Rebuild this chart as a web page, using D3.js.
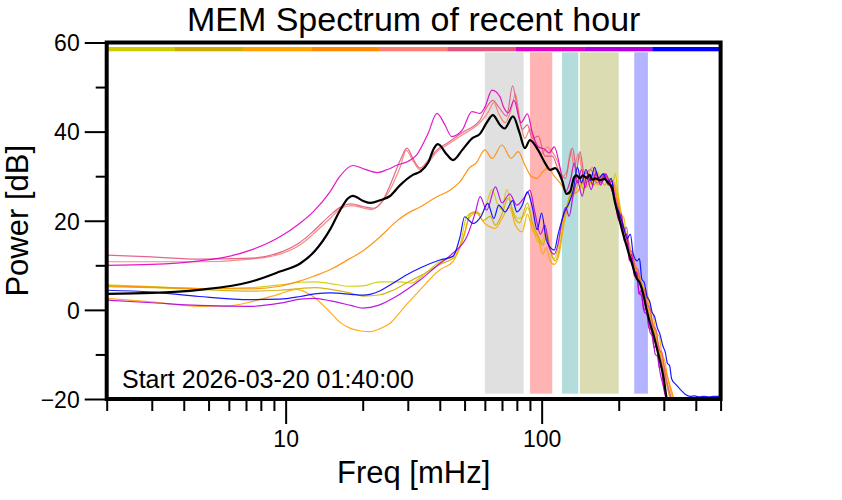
<!DOCTYPE html>
<html>
<head>
<meta charset="utf-8">
<script src="https://cdn.jsdelivr.net/npm/d3@7"></script>
<style>
  html, body { margin: 0; padding: 0; background: #fff; }
  svg { display: block; font-family: "Liberation Sans", Arial, Helvetica, sans-serif; }
</style>
</head>
<body>
<svg id="chart" width="842" height="500"></svg>
<script>
// ---------------- DATA ----------------
const titleText = "MEM Spectrum of recent hour";
const xLabel = "Freq [mHz]";
const yLabel = "Power [dB]";
const startText = "Start 2026-03-20 01:40:00";

const xMajorTicks = [10, 100];
const xMinorTicks = [2, 3, 4, 5, 6, 7, 8, 9, 20, 30, 40, 50, 60, 70, 80, 90, 200, 300, 400, 500];
const yMajorTicks = [-20, 0, 20, 40, 60];
const yMinorTicks = [-10, 10, 30, 50];

// frequency bands [from, to] in mHz
const bandLo = [60, 90, 120, 141, 230];
const bandHi = [85, 110, 139, 200, 260];
const bandColors = ["#e0e0e0", "#ffb3b3", "#b3dcdc", "#dcdcb3", "#b3b3ff"];

// colours of the nine sub-intervals of the hour (top bar and curves)
const segColors = ["#cdcd00", "#cdad00", "#ffa500", "#ff8c00", "#fa8072", "#e0567f", "#e000c0", "#b400e0", "#0000ff"];

// spectra: [frequency mHz, power dB]
const yellow3 = [[2,5.6],[3,5.2],[4.6,4.8],[7.3,5.0],[9.5,5.6],[11.4,6.2],[13,6.3],[15,5.9],[17.8,5.3],[20,5.4],[23.4,6.3],[28,6.3],[31,6.0],[34,7.5],[40,10.8],[45,12.0],[48,14.5],[51,21.0],[55,22.0],[58,21.5],[61,24.0],[64,27.0],[67,24.0],[70,22.5],[73,27.0],[77,22.5],[81,20.5],[85,21.0],[88,23.0],[92,19.5],[96,15.5],[100,15.0],[104,18.0],[108,13.5],[112,11.5],[116,14.0],[120,19.0],[125,23.0],[130,26.5],[135,28.0],[140,29.5],[146,28.0],[152,30.5],[158,28.5],[165,31.0],[172,29.0],[180,30.0],[188,28.0],[194,30.5],[199,26.0],[205,21.5],[210,20.5],[215,16.0],[220,15.0],[225,12.0],[230,11.5],[235,8.5],[242,7.5],[248,4.5],[255,3.0],[262,-0.5],[270,-2.5],[278,-6.0],[285,-7.5],[293,-11.0],[300,-12.5],[307,-16.0],[320,-21]];
const gold3 = [[2,5.2],[3,5.0],[4.6,4.6],[7.3,4.2],[9.5,4.4],[11.4,4.8],[13,5.0],[15,4.6],[17.8,3.8],[20,3.1],[23.4,3.4],[26,4.3],[30,6.2],[34,7.8],[40,10.2],[46,12.0],[50,17.0],[52.5,21.5],[56,22.0],[59,20.0],[63,21.0],[66,19.0],[70,21.5],[74,25.0],[78,21.0],[82,19.5],[88,24.0],[92,19.5],[97,16.5],[101,14.5],[105,17.0],[109,12.5],[113,11.0],[117,13.5],[122,20.0],[128,25.0],[134,27.5],[140,29.0],[146,27.0],[152,29.5],[160,28.0],[168,30.0],[176,28.0],[184,29.5],[192,27.5],[200,23.5],[208,19.0],[218,14.5],[228,10.5],[240,6.5],[252,3.0],[266,-2.0],[282,-7.5],[298,-13],[312,-18],[322,-21]];
const orange = [[2,2.6],[3,1.8],[4.6,0.8],[6,0.9],[7.3,1.8],[9.5,3.6],[11,4.6],[12.8,3.0],[14.9,-0.5],[16.3,-2.8],[18,-4.2],[20,-4.8],[21.4,-4.9],[23.4,-4.2],[25.6,-3.0],[28,-0.5],[30,1.5],[33.5,4.5],[40,9.0],[45,10.8],[49,15.7],[52.5,20.9],[55.4,21.7],[60,19.4],[66,18.3],[70,20.5],[75,23.0],[79,19.0],[84,17.5],[88,21.5],[92,18.0],[97,16.0],[101,12.5],[104,14.0],[108,11.0],[112,10.2],[117,12.5],[122,19.0],[128,24.0],[135,26.5],[142,29.0],[150,27.5],[158,30.5],[166,28.0],[174,30.0],[182,28.5],[190,29.0],[197,26.5],[205,21.0],[215,16.5],[225,12.5],[236,9.0],[250,5.0],[258,4.0],[265,0],[272,-1.0],[280,-5.0],[288,-6.0],[295,-10],[303,-11.5],[310,-15],[322,-19],[332,-22]];
const darkorange = [[2,5.4],[3,5.1],[4.6,4.8],[7.3,4.7],[9.5,5.3],[11.4,6.5],[12.8,7.5],[14.9,9.0],[17.8,11.5],[20,13.2],[23.4,16.4],[27,19.8],[29.8,21.6],[33.5,23.1],[39,25.4],[44,26.9],[48,28.8],[52.5,32.0],[55.4,32.9],[60,35.9],[64,34.0],[70,37.0],[76,34.0],[81,35.5],[86,32.5],[91,30.0],[96,29.5],[101,31.0],[106,31.8],[112,30.0],[118,28.5],[125,26.5],[132,26.0],[138,26.5],[144,28.5],[150,29.8],[156,28.5],[162,30.5],[168,29.0],[175,30.0],[182,28.5],[189,28.8],[196,25.5],[203,21.0],[212,17.0],[222,13.0],[232,9.5],[243,6.5],[255,3.0],[268,-1.5],[282,-6.5],[296,-11],[310,-15],[325,-19],[335,-22]];
const salmon = [[2,10.8],[3,10.8],[4.6,10.8],[7.3,11.4],[9.5,12.5],[11.4,14.6],[12.8,17.0],[14.9,20.5],[16.3,22.6],[18,23.4],[20,22.9],[21.7,22.5],[24,24.5],[25.6,27.0],[28,32.0],[29.6,35.8],[31.4,33.5],[33.5,31.4],[36,33.0],[39,35.5],[42.7,37.0],[49,39.3],[57.4,42.0],[62,44.5],[65,46.5],[68,44.0],[72,42.0],[76,45.0],[79,48.5],[82,43.0],[86,38.5],[90,40.5],[95,36.5],[100,35.0],[105,36.5],[110,35.5],[116,33.0],[121,30.0],[126,31.5],[130,36.0],[134,32.0],[139,35.0],[145,31.0],[151,30.5],[158,32.0],[166,29.5],[174,30.5],[182,29.0],[190,28.5],[197,24.0],[205,20.0],[215,15.5],[225,11.5],[236,8.0],[248,4.0],[262,-1.0],[278,-6.5],[295,-12],[310,-17],[322,-21]];
const rose = [[2,12.3],[3,11.9],[4.6,11.4],[7.3,11.6],[9.5,12.9],[11.4,15.2],[12.8,17.6],[14.9,21.2],[16.3,23.0],[18,23.8],[20,23.2],[22,22.8],[24,24.6],[25.6,28.0],[28,33.5],[29.8,36.3],[31.4,34.0],[33.5,31.8],[36,33.5],[39,35.9],[42.7,37.4],[49,39.8],[57.4,42.6],[61,45.5],[64.5,47.0],[68,45.5],[73,43.5],[77,50.3],[80,46.0],[84,40.5],[88,41.5],[92,38.5],[97,39.0],[103,34.5],[110,34.5],[117,31.0],[124,29.5],[128,33.5],[132,36.3],[137,31.5],[141,35.5],[147,30.5],[155,31.5],[165,28.5],[175,30.5],[185,28.5],[193,25.5],[200,22.5],[205,21.0],[210,18.0],[215,18.5],[220,13.5],[226,13.0],[232,9.5],[238,9.0],[245,5.0],[252,4.5],[258,1.0],[265,0.5],[272,-3.5],[280,-4.5],[288,-9.0],[295,-9.5],[303,-14.0],[318,-19.0],[328,-22]];
const magenta = [[2,10.0],[3,10.2],[4.6,11.0],[6,12.0],[7.3,13.4],[9.5,16.4],[11.4,19.5],[12.8,22.0],[14.9,26.5],[16.3,30.0],[18.3,32.4],[20.3,31.6],[22.8,30.8],[25,31.5],[27.3,32.5],[30,33.3],[32.5,34.8],[36,39.6],[39,44.1],[41.9,41.5],[44.5,38.9],[49,40.4],[53.4,44.5],[57.4,44.1],[60,45.5],[64,49.3],[68.8,47.8],[71,45.5],[74,44.2],[78,47.0],[83,42.0],[88,44.0],[92,39.7],[97,36.6],[103,36.0],[107,35.2],[112,36.6],[118,32.0],[124,26.5],[130,29.5],[134,33.0],[138,28.5],[143,31.5],[148,27.5],[153,30.5],[158,28.0],[163,31.0],[170,28.5],[176,30.5],[182,28.0],[188,29.0],[194,24.0],[200,20.0],[205,21.5],[210,15.5],[215,16.0],[220,11.0],[225,12.5],[230,7.5],[235,8.5],[240,3.5],[245,4.5],[250,0],[256,0.5],[262,-4],[268,-4.5],[275,-8.5],[281,-8.0],[288,-13],[293,-12.5],[298,-16.5],[310,-21]];
const purple = [[2,2.2],[3,1.6],[4.6,1.0],[7.3,0.8],[9.5,1.5],[11.4,2.4],[13,2.6],[15,2.0],[18,1.0],[20,0.4],[23,1.0],[27,3.0],[33.5,6.7],[40,10.4],[45,12.7],[51,16.4],[55,21.7],[57.5,25.4],[61,22.4],[66,27.6],[70,24.0],[75,26.0],[80,23.5],[85,25.0],[90,26.8],[94,22.0],[99,17.0],[103,19.0],[107,14.0],[112,12.5],[116,15.0],[120,20.0],[124,23.0],[128,21.0],[133,26.0],[138,29.0],[144,25.5],[150,30.0],[156,27.0],[163,30.5],[170,28.0],[178,30.5],[186,27.5],[193,25.0],[200,21.0],[205,19.0],[210,16.5],[215,17.0],[220,12.0],[225,11.5],[230,8.0],[235,8.5],[240,4.0],[246,3.0],[252,-0.5],[258,-1.0],[265,-5.0],[271,-6.0],[278,-10],[284,-10.5],[290,-14],[300,-17.5],[310,-21]];
const blue = [[2,4.4],[3,4.0],[4.6,3.0],[7.3,2.3],[9.5,2.4],[11.4,3.0],[13,3.6],[15,3.8],[18,3.5],[20,3.3],[23.4,4.3],[25.6,5.6],[30,8.0],[33.5,9.4],[40,11.2],[45,12.0],[48,16.4],[50,20.9],[54,19.4],[58,21.0],[61.6,23.9],[65,20.5],[68,23.5],[72,22.0],[77,24.5],[80,22.0],[84,23.5],[88,26.5],[92,23.0],[96,18.0],[100,21.7],[104,16.0],[108,14.0],[112,13.4],[116,17.0],[119,19.4],[123,22.0],[128,24.0],[133,27.0],[138,32.0],[143,28.5],[149,31.5],[155,29.0],[161,32.0],[167,29.5],[174,30.5],[181,28.5],[187,29.5],[193,24.5],[200,22.0],[208,19.0],[216,16.0],[222,17.0],[228,12.5],[236,11.0],[241,11.5],[246,7.0],[252,6.0],[258,3.0],[264,2.0],[270,-0.5],[276,-1.5],[283,-4.0],[290,-5.5],[297,-8.0],[304,-9.5],[310,-12.0],[316,-12.5],[322,-15.5],[335,-16.8],[350,-18.0],[365,-19.0],[380,-19.4],[395,-19.3],[410,-19.5],[430,-19.4],[450,-19.5],[470,-19.4],[490,-19.4],[500,-19.1]];
const mean = [[2,3.6],[3,3.8],[4.6,4.5],[7.3,6.3],[9.5,8.6],[11.4,10.4],[13,13.2],[14.9,18.0],[16.3,22.3],[17.5,25.0],[18.3,25.6],[20,24.5],[21.5,24.0],[23.4,24.6],[25.5,25.5],[28,28.0],[31.4,30.3],[33.5,31.0],[36,33.0],[38,36.3],[39.3,37.2],[42.7,34.8],[45.1,33.6],[49,35.9],[53.5,38.5],[57.4,39.5],[61,42.0],[64.5,43.7],[68.8,41.5],[71.6,40.7],[77.3,43.4],[82,39.7],[86,36.3],[90,38.1],[96.8,35.9],[103,33.0],[108,31.4],[113,31.8],[120,29.1],[125,26.0],[129,26.5],[134,29.8],[137,30.2],[141,29.5],[145,30.2],[150,29.6],[154,30.3],[158,29.2],[162,29.5],[169,29.1],[176,29.4],[182,28.5],[188,27.5],[193,24.3],[200,20.9],[207,17.5],[215,14.2],[225,10.5],[235,7.1],[242,6.0],[249,3.7],[257,0],[265,-3],[273,-5.5],[281,-8.3],[290,-11.5],[299,-15],[308,-20],[315,-23]];

const colouredSeries = [yellow3, gold3, orange, darkorange, salmon, rose, magenta, purple, blue];

// ---------------- DRAW ----------------
const svg = d3.select("#chart");
const L = 106.7, R = 720.6, T = 42.5, B = 399;
const x = d3.scaleLog().domain([2, 500]).range([L, R]);
const y = d3.scaleLinear().domain([-20, 60]).range([B, T]);

svg.append("defs").append("clipPath").attr("id", "plotclip")
  .append("rect").attr("x", L).attr("y", T).attr("width", R - L).attr("height", B - T - 1.5);

// bands
svg.append("g").selectAll("rect").data(bandLo).join("rect")
  .attr("x", (d) => x(d))
  .attr("width", (d, i) => x(bandHi[i]) - x(d))
  .attr("y", y(57.8))
  .attr("height", y(-18.8) - y(57.8))
  .attr("fill", (d, i) => bandColors[i]);

// top colour bar
const segW = (R - L) / segColors.length;
svg.append("g").selectAll("rect").data(segColors).join("rect")
  .attr("x", (d, i) => L + i * segW)
  .attr("width", segW + 0.3)
  .attr("y", 47)
  .attr("height", 4.3)
  .attr("fill", (d) => d);

// curves
const line = d3.line().x((d) => x(d[0])).y((d) => y(d[1])).curve(d3.curveMonotoneX);
const gc = svg.append("g").attr("clip-path", "url(#plotclip)");
gc.selectAll("path.c").data(colouredSeries).join("path")
  .attr("class", "c")
  .attr("d", line)
  .attr("fill", "none")
  .attr("stroke", (d, i) => segColors[i])
  .attr("stroke-width", 1.2)
  .attr("stroke-opacity", 0.9);
gc.append("path").datum(mean).attr("d", line)
  .attr("fill", "none").attr("stroke", "#000").attr("stroke-width", 2.2);

// axes
const fmt = d3.format("d");
const xAxMaj = svg.append("g").attr("transform", `translate(0,${B})`)
  .call(d3.axisBottom(x).tickValues(xMajorTicks).tickSize(25).tickPadding(24).tickFormat(fmt));
const xAxMin = svg.append("g").attr("transform", `translate(0,${B})`)
  .call(d3.axisBottom(x).tickValues(xMinorTicks).tickSize(12).tickFormat(""));
const yAxMaj = svg.append("g").attr("transform", `translate(${L},0)`)
  .call(d3.axisLeft(y).tickValues(yMajorTicks).tickSize(22).tickPadding(5).tickFormat(fmt));
const yAxMin = svg.append("g").attr("transform", `translate(${L},0)`)
  .call(d3.axisLeft(y).tickValues(yMinorTicks).tickSize(11).tickFormat(""));
[xAxMaj, xAxMin, yAxMaj, yAxMin].forEach((g) => {
  g.select(".domain").remove();
  g.selectAll(".tick line").attr("stroke", "#000").attr("stroke-width", 2);
  g.selectAll(".tick text").attr("fill", "#000")
    .style("font-size", "23px").style("font-family", "'Liberation Sans', Arial, sans-serif");
});
yAxMaj.selectAll(".tick text").attr("dy", "0.36em");
xAxMaj.selectAll(".tick text").attr("dy", "0em").attr("y", 48);

// frame
svg.append("rect").attr("x", L).attr("y", T).attr("width", R - L).attr("height", B - T)
  .attr("fill", "none").attr("stroke", "#000").attr("stroke-width", 4);

// texts
svg.append("text").attr("x", (L + R) / 2).attr("y", 31).attr("text-anchor", "middle")
  .style("font-size", "34px").text(titleText);
svg.append("text").attr("x", (L + R) / 2).attr("y", 483).attr("text-anchor", "middle")
  .style("font-size", "31px").text(xLabel);
svg.append("text").attr("transform", `translate(28,${(T + B) / 2}) rotate(-90)`)
  .attr("text-anchor", "middle").style("font-size", "31px").text(yLabel);
svg.append("text").attr("x", 122).attr("y", 388)
  .style("font-size", "25px").text(startText);
</script>
</body>
</html>
